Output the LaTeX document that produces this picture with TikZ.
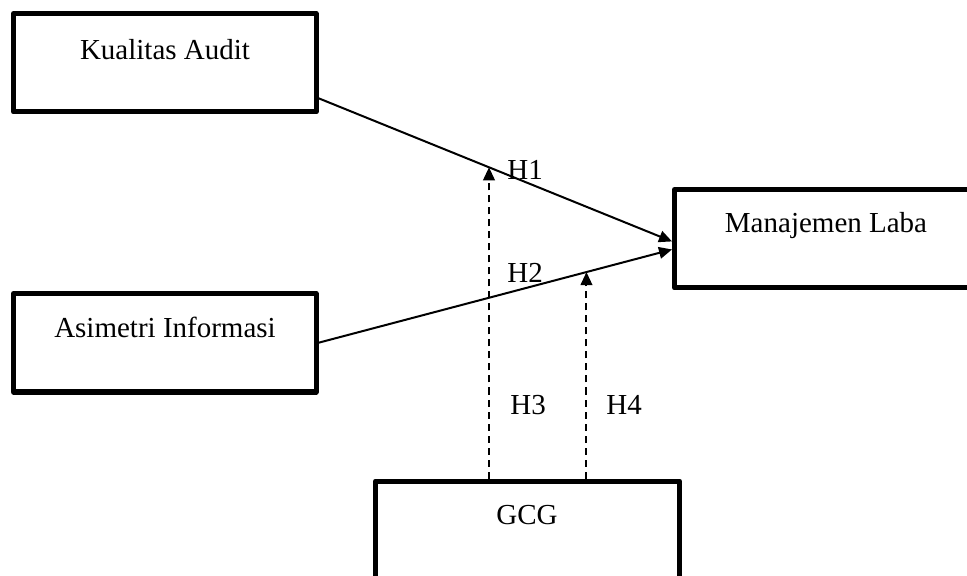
\documentclass[tikz,border=0pt]{standalone}
\usepackage{fontspec}
\setmainfont{Liberation Serif}
\usetikzlibrary{arrows.meta,calc}
\begin{document}
\begin{tikzpicture}[x=0.5pt,y=-0.5pt,
  box/.style={draw=black,line width=2.5pt,line join=round,rectangle,minimum width=151pt,minimum height=49.25pt,inner sep=0pt},
  txt/.style={inner sep=0pt,anchor=base,font=\fontsize{14.5}{17}\selectfont},
  hlab/.style={inner sep=0pt,anchor=base west,font=\fontsize{14.5}{17}\selectfont},
  conn/.style={line width=1pt,-{Triangle[length=6.5pt,width=5.8pt]}},
  dconn/.style={line width=1pt,dash pattern=on 3.5pt off 2.5pt,-{Triangle[length=6.5pt,width=5.8pt]}}]
\clip (0,0) rectangle (967,576);
\fill[white] (0,0) rectangle (967,576);
% boxes
\node[box,minimum width=151.25pt] (ka) at (164.75,62.75) {};
\node[box,minimum width=151.25pt] (as) at (164.75,342.75) {};
\node[box] (mn) at (825.5,238.75) {};
\node[box,minimum width=152pt] (gc) at (527.5,530.25) {};
% texts
\node[txt] (kat) at (165,59.5) {Kualitas Audit};
\node[txt] (ast) at (165,337.5) {Asimetri Informasi};
\node[txt] (mnt) at (826,232.5) {Manajemen Laba};
\node[txt] (gct) at (527,524.5) {GCG};
% main connectors
\draw[conn] (ka.-13.27) -- coordinate[pos=0.4823] (p1) (mn.181.2);
\draw[conn] (as.east) -- coordinate[pos=0.758] (p2) (mn.184.2);
% moderating connectors
\draw[dconn] (gc.north -| p1) -- (p1);
\draw[dconn] (gc.north -| p2) -- (p2);
% labels
\node[hlab] (h1) at (507,179.5) {H1};
\node[hlab] (h2) at (507,282.5) {H2};
\node[hlab] (h3) at (510,414.5) {H3};
\node[hlab] (h4) at (606,414.5) {H4};
\end{tikzpicture}
\end{document}
